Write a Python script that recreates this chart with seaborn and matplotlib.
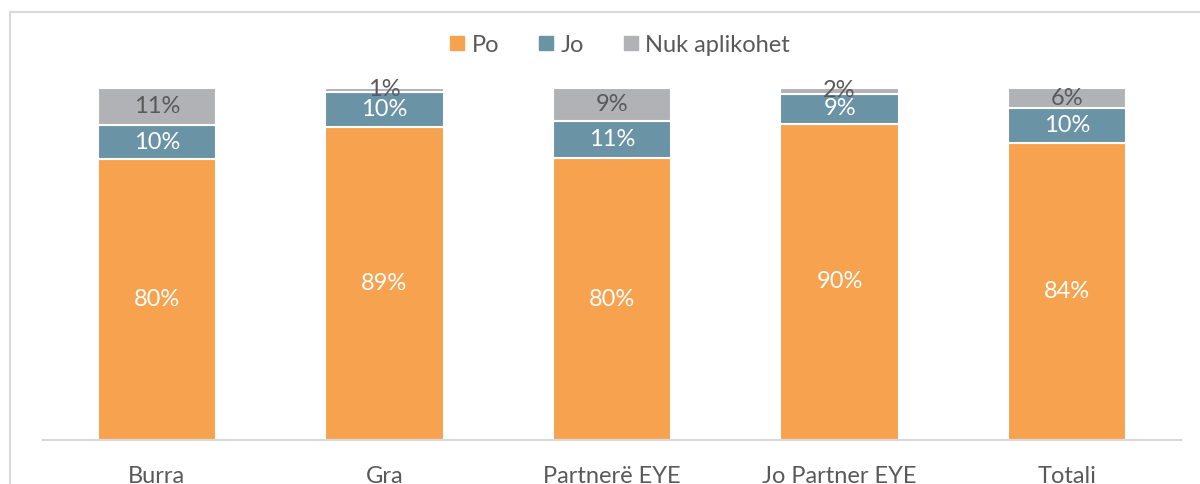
import matplotlib
matplotlib.use("Agg")
import matplotlib.pyplot as plt
from matplotlib.lines import Line2D
from matplotlib.patches import Rectangle
import seaborn as sns
import pandas as pd
import numpy as np

categories = ["Burra", "Gra", "Partnerë EYE", "Jo Partner EYE", "Totali"]
po = [79.8, 88.9, 80.1, 89.8, 84.4]
jo = [9.6, 10.0, 10.6, 8.6, 9.9]
nuk = [10.6, 1.1, 9.3, 1.6, 5.7]
series_names = ["Po", "Jo", "Nuk aplikohet"]
colors = ["#F7A24F", "#6A93A6", "#B1B2B6"]
label_colors = ["white", "white", "#595959"]

sns.set_theme(style="white")
plt.rcParams["font.family"] = ["Lato", "DejaVu Sans"]

fig = plt.figure(figsize=(12, 4.84), dpi=100)
ax = fig.add_axes([43/1200, 1-440/484, (1181-43)/1200, (440-88)/484])

df = pd.DataFrame({"cat": categories, "po": po, "jo": jo, "nuk": nuk})
bottom = np.zeros(len(categories))
for col, name, c, lc in zip(["po", "jo", "nuk"], series_names, colors, label_colors):
    vals = df[col].to_numpy()
    sns.barplot(data=df, x="cat", y=col, color=c, width=0.52, bottom=bottom,
                edgecolor="white", linewidth=1.5, ax=ax, saturation=1)
    for i, v in enumerate(vals):
        ax.text(i, bottom[i] + v/2, f"{round(v)}%", ha="center", va="center",
                color=lc, fontsize=17)
    bottom = bottom + vals

ax.set_ylim(0, 100)
ax.set_xlim(-0.5, len(categories) - 0.5)
ax.set_xlabel("")
ax.set_ylabel("")
ax.set_yticks([])
for s in ["top", "right", "left"]:
    ax.spines[s].set_visible(False)
ax.spines["bottom"].set_color("#D9D9D9")
ax.spines["bottom"].set_linewidth(1.5)
ax.tick_params(axis="x", length=0, pad=19, labelsize=17, labelcolor="#595959")

handles = [Line2D([0], [0], marker="s", linestyle="none", markersize=10,
                  markerfacecolor=c, markeredgecolor=c) for c in colors]
fig.legend(handles, series_names, loc="center", bbox_to_anchor=(619/1200, 1-45/484),
           ncol=3, frameon=False, fontsize=17, labelcolor="#595959",
           handletextpad=0.2, columnspacing=1.6, handlelength=0.8)

fig.patches.append(Rectangle((10/1200, -0.1), 1.2, (484-12)/484 + 0.1,
                             transform=fig.transFigure, fill=False,
                             edgecolor="#D9D9D9", linewidth=1.5, clip_on=False))

fig.savefig("out.png", dpi=100)
